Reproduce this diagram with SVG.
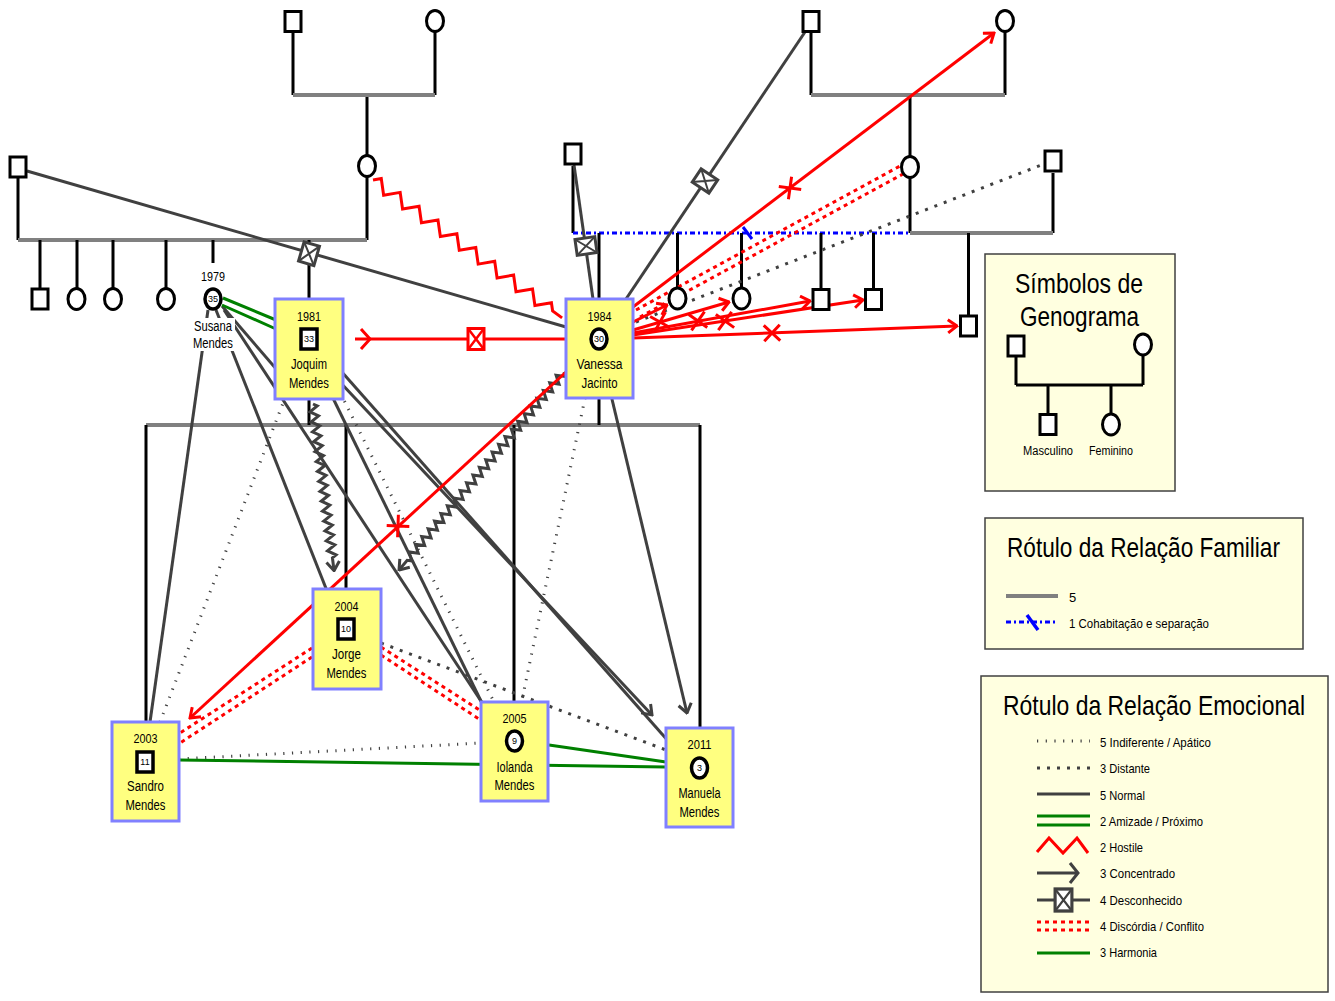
<svg xmlns="http://www.w3.org/2000/svg" width="1335" height="1001" viewBox="0 0 1335 1001">
<style>
  .fam{stroke:#000;stroke-width:3;fill:none}
  .cpl{stroke:#808080;stroke-width:4;fill:none}
  .sym{fill:#fff;stroke:#000;stroke-width:3}
  .nsym{fill:#fff;stroke:#000;stroke-width:3.5}
  .box{fill:#FFFF80;stroke:#8080FF;stroke-width:3}
  .t{font-family:"Liberation Sans Narrow","Liberation Sans",Arial,sans-serif;fill:#000;text-anchor:middle}
  .lt{font-family:"Liberation Sans Narrow","Liberation Sans",Arial,sans-serif;fill:#000;font-size:13px}
  .yr{font-size:13px}
  .nm{font-size:14px}
  .num{font-size:9px}
  .ttl{font-size:28px}
  .sm{font-size:12px}
  .norm{stroke:#404040;stroke-width:3;fill:none}
  .green{stroke:#008000;stroke-width:3;fill:none}
  .red{stroke:#f00;stroke-width:3;fill:none}
  .disc{stroke:#f00;stroke-width:3;stroke-dasharray:4 4;fill:none}
  .dist{stroke:#404040;stroke-width:3;stroke-dasharray:3 7;fill:none}
  .indif{stroke:#404040;stroke-width:3;stroke-dasharray:1.2 7.5;fill:none}
  .cohab{stroke:#00f;stroke-width:3;stroke-dasharray:5 3 2 3;fill:none}
  .leg{fill:#FFFFE0;stroke:#404040;stroke-width:1.5}
</style>
<defs>
  <marker id="chevR" viewBox="0 0 12 16" refX="10.5" refY="8" markerWidth="12" markerHeight="16" markerUnits="userSpaceOnUse" orient="auto">
    <path d="M1.5,1.5 L10.5,8 L1.5,14.5" fill="none" stroke="#f00" stroke-width="3"/>
  </marker>
  <marker id="chevG" viewBox="0 0 12 16" refX="10.5" refY="8" markerWidth="12" markerHeight="16" markerUnits="userSpaceOnUse" orient="auto">
    <path d="M1.5,1.5 L10.5,8 L1.5,14.5" fill="none" stroke="#404040" stroke-width="3"/>
  </marker>
  <g id="unk">
    <rect x="-8" y="-10" width="16" height="20" fill="#fff" stroke="#404040" stroke-width="3"/>
    <path d="M-8,-10 L8,10 M8,-10 L-8,10" stroke="#404040" stroke-width="2"/>
  </g>
  <g id="unkR">
    <rect x="-8" y="-10.5" width="16" height="21" fill="#fff" stroke="#f00" stroke-width="3"/>
    <path d="M-8,-10.5 L8,10.5 M8,-10.5 L-8,10.5" stroke="#f00" stroke-width="2.5"/>
  </g>
  <path id="xm" d="M-8,-8 L8,8 M-8,8 L8,-8" stroke="#f00" stroke-width="3"/>
</defs>

<rect width="1335" height="1001" fill="#fff"/>

<!-- family structure -->
<g id="family-lines">
  <path class="fam" d="M293,33 V95 M435,32 V95 M367,95 V155 M367,177 V240 M18,178 V240"/>
  <path class="cpl" d="M293,95 H435 M18,240 H367"/>
  <path class="fam" d="M40,240 V288 M77,240 V288 M113,240 V288 M166,240 V288 M213,240 V263 M309,240 V299"/>
  <path class="fam" d="M811,33 V95 M1005,32 V95 M910,95 V156 M910,178 V233 M573,166 V233 M1053,173 V233"/>
  <path class="cpl" d="M811,95 H1005 M910,233 H1053"/>
  <path class="cohab" d="M573,233 H910"/>
  <path d="M743,227 L752,239" stroke="#00f" stroke-width="3"/>
  <path class="fam" d="M599,233 V299 M677.5,233 V288 M741.5,233 V288 M821,233 V288 M873.5,233 V288 M968.5,233 V315"/>
  <path class="cpl" d="M146,425 H700"/>
  <path class="fam" d="M309,399 V425 M599,398 V425 M146,425 V722 M346,425 V589 M514,425 V702 M700,425 V728"/>
</g>

<!-- relationship connectors -->
<g id="connectors">
  <!-- normal -->
  <path class="norm" d="M27,171 L566,327"/>
  <path class="norm" d="M626,299 L805,32"/>
  <path class="norm" d="M574,165 L593,299"/>
  <path class="norm" d="M208,310 L150,722"/>
  <path class="norm" d="M216,310 L346,639"/>
  <path class="norm" d="M224,310 L500,730"/>
  <path class="norm" d="M222,306 L290,385"/>
  <path class="norm" d="M309,349 L500,740"/>
  <path class="norm" d="M318,345 L700,777"/>
  <path class="norm" d="M309,349 L652,715" marker-end="url(#chevG)"/>
  <path class="norm" d="M600,349 L687,713" marker-end="url(#chevG)"/>
  <use href="#unk" transform="translate(309,253.7) rotate(16.2)"/>
  <use href="#unk" transform="translate(705,181) rotate(-56.3)"/>
  <use href="#unk" transform="translate(586,246) rotate(81.9)"/>

  <!-- indifferent -->
  <path class="indif" d="M295,372 L160,722"/>
  <path class="indif" d="M329,370 L493,700"/>
  <path class="indif" d="M585,398 L522,700"/>
  <path class="indif" d="M179,759 L481,743"/>

  <!-- distant -->
  <path class="dist" d="M636,322 L1044,164"/>
  <path class="dist" d="M381,643 L666,750"/>

  <!-- friendship / harmony -->
  <path class="green" d="M223,298 L276,320 M222,305 L276,329"/>
  <path class="green" d="M179,760 L666,767"/>
  <path class="green" d="M549,745 L666,762"/>

  <!-- discord -->
  <path class="disc" d="M636,310 L900,166 M640,317 L903,174"/>
  <path class="disc" d="M312,648 L180,733 M312,657 L180,743"/>
  <path class="disc" d="M381,647 L481,711 M381,655 L479,719"/>

  <!-- hostile -->
  <path class="red" transform="translate(373,180) rotate(36.1)" d="M0,0 l5.85,-6 l11.7,12 l11.7,-12 l11.7,12 l11.7,-12 l11.7,12 l11.7,-12 l11.7,12 l11.7,-12 l11.7,12 l11.7,-12 l11.7,12 l11.7,-12 l11.7,12 l11.7,-12 l11.7,12 l11.7,-12 l11.7,12 l11.7,-12 l5.85,6 l11.7,0"/>
  <path class="norm" stroke-width="2.5" transform="translate(313,404) rotate(82.8)" marker-end="url(#chevG)" d="M0,0 l2.5,-4 l5,8 l5,-8 l5,8 l5,-8 l5,8 l5,-8 l5,8 l5,-8 l5,8 l5,-8 l5,8 l5,-8 l5,8 l5,-8 l5,8 l5,-8 l5,8 l5,-8 l5,8 l5,-8 l5,8 l5,-8 l5,8 l5,-8 l5,8 l5,-8 l5,8 l5,-8 l5,8 l5,-8 l2.5,4 l13,0"/>
  <path class="norm" stroke-width="2.5" transform="translate(564,372) rotate(129.8)" marker-end="url(#chevG)" d="M0,0 l2.5,-4 l5,8 l5,-8 l5,8 l5,-8 l5,8 l5,-8 l5,8 l5,-8 l5,8 l5,-8 l5,8 l5,-8 l5,8 l5,-8 l5,8 l5,-8 l5,8 l5,-8 l5,8 l5,-8 l5,8 l5,-8 l5,8 l5,-8 l5,8 l5,-8 l5,8 l5,-8 l5,8 l5,-8 l5,8 l5,-8 l5,8 l5,-8 l5,8 l5,-8 l5,8 l5,-8 l5,8 l5,-8 l5,8 l5,-8 l5,8 l5,-8 l5,8 l5,-8 l5,8 l5,-8 l2.5,4 l12.7,0"/>

  <!-- cut-off / concentrated (red) -->
  <path class="red" d="M355,339 L566,339"/>
  <path class="red" d="M361,329 L370,339 L361,349"/>
  <use href="#unkR" transform="translate(476,339)"/>
  <path class="red" d="M633,307 L994,33" marker-end="url(#chevR)"/>
  <use href="#xm" transform="translate(790,188) rotate(-37)"/>
  <path class="red" d="M633,322 L667,305" marker-end="url(#chevR)"/>
  <path class="red" d="M633,330 L729,302" marker-end="url(#chevR)"/>
  <use href="#xm" transform="translate(660,322) rotate(-16)"/>
  <path class="red" d="M633,333 L810,301" marker-end="url(#chevR)"/>
  <use href="#xm" transform="translate(698,321) rotate(-10)"/>
  <path class="red" d="M633,335 L863,300" marker-end="url(#chevR)"/>
  <use href="#xm" transform="translate(725,321) rotate(-9)"/>
  <path class="red" d="M633,338 L957,326" marker-end="url(#chevR)"/>
  <use href="#xm" transform="translate(772,333) rotate(-2)"/>
  <path class="red" d="M566,372 L190,718" marker-end="url(#chevR)"/>
  <use href="#xm" transform="translate(398,526) rotate(137)"/>
</g>

<!-- family members without detail -->
<g id="n-gf1"><rect class="sym" x="285" y="11.5" width="16" height="20"/></g>
<g id="n-gm1"><ellipse class="sym" cx="435" cy="21" rx="8.5" ry="10.5"/></g>
<g id="n-m1"><ellipse class="sym" cx="367" cy="166" rx="8.5" ry="10.5"/></g>
<g id="n-f1"><rect class="sym" x="10" y="157" width="16" height="20"/></g>
<g id="n-c1"><rect class="sym" x="32" y="289" width="16" height="20"/></g>
<g id="n-c2"><ellipse class="sym" cx="76.5" cy="299" rx="8.5" ry="10.5"/></g>
<g id="n-c3"><ellipse class="sym" cx="113" cy="299" rx="8.5" ry="10.5"/></g>
<g id="n-c4"><ellipse class="sym" cx="166" cy="299" rx="8.5" ry="10.5"/></g>
<g id="n-gf2"><rect class="sym" x="803" y="11.5" width="16" height="20"/></g>
<g id="n-gm2"><ellipse class="sym" cx="1005" cy="21" rx="8.5" ry="10.5"/></g>
<g id="n-m2"><ellipse class="sym" cx="910" cy="167" rx="8.5" ry="10.5"/></g>
<g id="n-f2"><rect class="sym" x="565" y="144" width="16" height="20"/></g>
<g id="n-f3"><rect class="sym" x="1045" y="151" width="16" height="20"/></g>
<g id="n-s1"><ellipse class="sym" cx="677.5" cy="298.5" rx="8.5" ry="10.5"/></g>
<g id="n-s2"><ellipse class="sym" cx="741.5" cy="298.5" rx="8.5" ry="10.5"/></g>
<g id="n-b1"><rect class="sym" x="813" y="289.5" width="16" height="20"/></g>
<g id="n-b2"><rect class="sym" x="865.5" y="289.5" width="16" height="20"/></g>
<g id="n-b3"><rect class="sym" x="960.5" y="316" width="16" height="20"/></g>

<!-- Susana -->
<g id="n-susana">
  <rect x="192" y="318" width="43" height="33" fill="#fff"/>
  <text class="t yr" x="213" y="281" textLength="24" lengthAdjust="spacingAndGlyphs">1979</text>
  <ellipse class="nsym" cx="213" cy="299" rx="8" ry="10"/>
  <text class="t num" x="213" y="302">35</text>
  <text class="t nm" x="213" y="331" textLength="38" lengthAdjust="spacingAndGlyphs">Susana</text>
  <text class="t nm" x="213" y="348" textLength="40" lengthAdjust="spacingAndGlyphs">Mendes</text>
</g>

<g id="n-joquim">
  <rect class="box" x="275" y="299" width="68" height="100"/>
  <text class="t yr" x="309" y="321" textLength="24" lengthAdjust="spacingAndGlyphs">1981</text>
  <rect class="nsym" x="301" y="329" width="16" height="20"/>
  <text class="t num" x="309" y="342">33</text>
  <text class="t nm" x="309" y="369" textLength="36" lengthAdjust="spacingAndGlyphs">Joquim</text>
  <text class="t nm" x="309" y="388" textLength="40" lengthAdjust="spacingAndGlyphs">Mendes</text>
</g>

<g id="n-vanessa">
  <rect class="box" x="566" y="299" width="67" height="99"/>
  <text class="t yr" x="599.5" y="321" textLength="24" lengthAdjust="spacingAndGlyphs">1984</text>
  <ellipse class="nsym" cx="599" cy="339" rx="8" ry="10"/>
  <text class="t num" x="599" y="342">30</text>
  <text class="t nm" x="599.5" y="369" textLength="46" lengthAdjust="spacingAndGlyphs">Vanessa</text>
  <text class="t nm" x="599.5" y="388" textLength="36" lengthAdjust="spacingAndGlyphs">Jacinto</text>
</g>

<g id="n-jorge">
  <rect class="box" x="313" y="589" width="68" height="100"/>
  <text class="t yr" x="346.5" y="611" textLength="24" lengthAdjust="spacingAndGlyphs">2004</text>
  <rect class="nsym" x="338" y="619" width="16" height="20"/>
  <text class="t num" x="346" y="632">10</text>
  <text class="t nm" x="346.5" y="659" textLength="29" lengthAdjust="spacingAndGlyphs">Jorge</text>
  <text class="t nm" x="346.5" y="678" textLength="40" lengthAdjust="spacingAndGlyphs">Mendes</text>
</g>

<g id="n-sandro">
  <rect class="box" x="112" y="722" width="67" height="99"/>
  <text class="t yr" x="145.5" y="743" textLength="24" lengthAdjust="spacingAndGlyphs">2003</text>
  <rect class="nsym" x="137" y="752" width="16" height="20"/>
  <text class="t num" x="145" y="765">11</text>
  <text class="t nm" x="145.5" y="791" textLength="37" lengthAdjust="spacingAndGlyphs">Sandro</text>
  <text class="t nm" x="145.5" y="810" textLength="40" lengthAdjust="spacingAndGlyphs">Mendes</text>
</g>

<g id="n-iolanda">
  <rect class="box" x="481" y="702" width="67" height="99"/>
  <text class="t yr" x="514.5" y="723" textLength="24" lengthAdjust="spacingAndGlyphs">2005</text>
  <ellipse class="nsym" cx="514.5" cy="741" rx="8" ry="10"/>
  <text class="t num" x="514.5" y="744">9</text>
  <text class="t nm" x="514.5" y="772" textLength="36" lengthAdjust="spacingAndGlyphs">Iolanda</text>
  <text class="t nm" x="514.5" y="790" textLength="40" lengthAdjust="spacingAndGlyphs">Mendes</text>
</g>

<g id="n-manuela">
  <rect class="box" x="666" y="728" width="67" height="99"/>
  <text class="t yr" x="699.5" y="749" textLength="24" lengthAdjust="spacingAndGlyphs">2011</text>
  <ellipse class="nsym" cx="699.5" cy="768" rx="8" ry="10"/>
  <text class="t num" x="699.5" y="771">3</text>
  <text class="t nm" x="699.5" y="798" textLength="42" lengthAdjust="spacingAndGlyphs">Manuela</text>
  <text class="t nm" x="699.5" y="817" textLength="40" lengthAdjust="spacingAndGlyphs">Mendes</text>
</g>

<!-- legend: symbols -->
<g id="legend-symbols">
  <rect class="leg" x="985" y="254" width="190" height="237"/>
  <text class="t ttl" x="1079" y="293" textLength="128" lengthAdjust="spacingAndGlyphs">Símbolos de</text>
  <text class="t ttl" x="1079.5" y="326" textLength="119" lengthAdjust="spacingAndGlyphs">Genograma</text>
  <path class="fam" d="M1016,356 V385 M1143,355 V385 M1016,385 H1143 M1048,385 V414 M1111,385 V414"/>
  <rect class="sym" x="1008" y="336" width="16" height="20"/>
  <ellipse class="sym" cx="1143" cy="344.5" rx="8.5" ry="10.5"/>
  <rect class="sym" x="1040" y="414.5" width="16" height="20"/>
  <ellipse class="sym" cx="1111" cy="424.5" rx="8.5" ry="10.5"/>
  <text class="t sm" x="1048" y="455" textLength="50" lengthAdjust="spacingAndGlyphs">Masculino</text>
  <text class="t sm" x="1111" y="455" textLength="44" lengthAdjust="spacingAndGlyphs">Feminino</text>
</g>

<!-- legend: family relations -->
<g id="legend-family">
  <rect class="leg" x="985" y="518" width="318" height="131"/>
  <text class="t ttl" x="1143.5" y="557" textLength="273" lengthAdjust="spacingAndGlyphs">Rótulo da Relação Familiar</text>
  <path d="M1006,596 H1058" stroke="#808080" stroke-width="4"/>
  <text class="lt" x="1069" y="602">5</text>
  <path class="cohab" d="M1006,622 H1058"/>
  <path d="M1027,615 L1038,630" stroke="#00f" stroke-width="3.5"/>
  <text class="lt" x="1069" y="628" textLength="140" lengthAdjust="spacingAndGlyphs">1 Cohabitação e separação</text>
</g>

<!-- legend: emotional relations -->
<g id="legend-emotional">
  <rect class="leg" x="981" y="676" width="347" height="316"/>
  <text class="t ttl" x="1154" y="715" textLength="302" lengthAdjust="spacingAndGlyphs">Rótulo da Relação Emocional</text>
  <path class="indif" d="M1037,741 H1090"/>
  <text class="lt" x="1100" y="747" textLength="111" lengthAdjust="spacingAndGlyphs">5 Indiferente / Apático</text>
  <path class="dist" d="M1037,768 H1090"/>
  <text class="lt" x="1100" y="773" textLength="50" lengthAdjust="spacingAndGlyphs">3 Distante</text>
  <path class="norm" d="M1037,794 H1090"/>
  <text class="lt" x="1100" y="800" textLength="45" lengthAdjust="spacingAndGlyphs">5 Normal</text>
  <path class="green" d="M1037,816 H1090 M1037,825 H1090"/>
  <text class="lt" x="1100" y="826" textLength="103" lengthAdjust="spacingAndGlyphs">2 Amizade / Próximo</text>
  <path class="red" d="M1037,852 L1049,838 L1063,853 L1077,838 L1088,853"/>
  <text class="lt" x="1100" y="852" textLength="43" lengthAdjust="spacingAndGlyphs">2 Hostile</text>
  <path class="norm" d="M1037,873 H1077 M1070,863 L1078,873 L1070,883"/>
  <text class="lt" x="1100" y="878" textLength="75" lengthAdjust="spacingAndGlyphs">3 Concentrado</text>
  <path class="norm" d="M1037,900 H1090"/>
  <use href="#unk" transform="translate(1063.5,900) scale(1.05,1.1)"/>
  <text class="lt" x="1100" y="905" textLength="82" lengthAdjust="spacingAndGlyphs">4 Desconhecido</text>
  <path class="disc" d="M1037,922 H1090 M1037,930 H1090"/>
  <text class="lt" x="1100" y="931" textLength="104" lengthAdjust="spacingAndGlyphs">4 Discórdia / Conflito</text>
  <path class="green" d="M1037,953 H1090"/>
  <text class="lt" x="1100" y="957" textLength="57" lengthAdjust="spacingAndGlyphs">3 Harmonia</text>
</g>
</svg>
